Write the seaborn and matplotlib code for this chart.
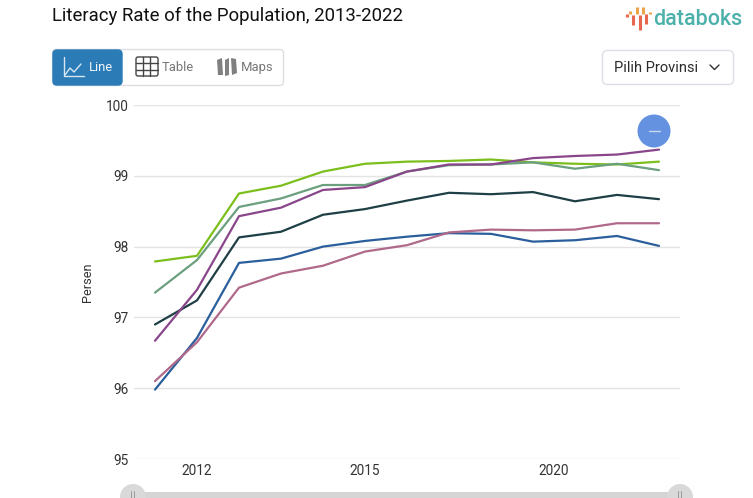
import matplotlib
matplotlib.use("Agg")
import matplotlib.pyplot as plt
from matplotlib.patches import FancyBboxPatch, Circle, Rectangle, Polygon
import pandas as pd
import seaborn as sns

positions = list(range(13))
tick_positions = [1, 5, 9.5]
tick_labels = ["2012", "2015", "2020"]
y_ticks = [95, 96, 97, 98, 99, 100]

lime = [97.79, 97.87, 98.75, 98.86, 99.06, 99.17, 99.20, 99.21, 99.23, 99.19, 99.17, 99.16, 99.20]
green = [97.35, 97.81, 98.56, 98.68, 98.87, 98.87, 99.06, 99.15, 99.16, 99.19, 99.10, 99.17, 99.08]
purple = [96.67, 97.39, 98.43, 98.55, 98.80, 98.84, 99.06, 99.16, 99.16, 99.25, 99.28, 99.30, 99.37]
dark = [96.90, 97.24, 98.13, 98.21, 98.45, 98.53, 98.65, 98.76, 98.74, 98.77, 98.64, 98.73, 98.67]
blue = [95.98, 96.71, 97.77, 97.83, 98.00, 98.08, 98.14, 98.19, 98.18, 98.07, 98.09, 98.15, 98.01]
pink = [96.10, 96.65, 97.42, 97.62, 97.73, 97.93, 98.02, 98.20, 98.24, 98.23, 98.24, 98.33, 98.33]

series = {"lime": lime, "green": green, "dark": dark, "blue": blue, "pink": pink, "purple": purple}
palette = {"lime": "#7CBF1C", "green": "#6B9F7E", "purple": "#89468A",
           "dark": "#1E3F45", "blue": "#2A5E9C", "pink": "#B0698A"}

df = pd.DataFrame([{"pos": p, "series": k, "value": v}
                   for k, vals in series.items() for p, v in zip(positions, vals)])

sns.set_theme(style="white")
plt.rcParams["font.family"] = ["Roboto", "DejaVu Sans"]

W, H = 753, 498
fig = plt.figure(figsize=(W / 100, H / 100), dpi=100, facecolor="white")
ax = fig.add_axes([134 / W, 1 - 459 / H, (680 - 134) / W, (459 - 105) / H])
sns.lineplot(data=df, x="pos", y="value", hue="series", palette=palette, ax=ax,
             linewidth=1.6, legend=False, errorbar=None, sort=False)
ax.set_xlim(-0.5, 12.5)
ax.set_ylim(95, 100)
ax.set_yticks(y_ticks)
ax.set_xticks(tick_positions)
ax.set_xticklabels(tick_labels)
ax.grid(axis="y", color="#E3E3E3", linewidth=1)
ax.set_axisbelow(True)
for s in ax.spines.values():
    s.set_visible(False)
ax.tick_params(axis="both", length=0, labelcolor="#333333", labelsize=9.8)
ax.tick_params(axis="x", pad=3.6)
ax.tick_params(axis="y", pad=3.8)
ax.set_xlabel("")
ax.set_ylabel("Persen", fontsize=9.2, color="#333333", labelpad=8.8)

# page chrome, in pixel coordinates
ui = fig.add_axes([0, 0, 1, 1], facecolor="none")
ui.set_xlim(0, W)
ui.set_ylim(H, 0)
ui.axis("off")

ui.text(52, 15.5, "Literacy Rate of the Population, 2013-2022", fontsize=13.4,
        color="#111111", va="center", ha="left")

def box(x, y, w, h, r, fc, ec, lw=1):
    ui.add_patch(FancyBboxPatch((x + r, y + r), w - 2 * r, h - 2 * r,
                                boxstyle=f"round,pad={r},rounding_size={r}",
                                fc=fc, ec=ec, lw=lw))

box(52.5, 49.5, 231, 36, 4, "white", "#DEDEE2")
box(53, 50, 69, 35, 4, "#2A7BB6", "#2A7BB6")
ui.text(88.5, 67.5, "Line", fontsize=9.4, color="#F0F6FA", va="center")
ui.text(162, 67.5, "Table", fontsize=9.4, color="#777777", va="center")
ui.text(241, 67.5, "Maps", fontsize=9.4, color="#777777", va="center")

# line icon
ui.plot([64, 64, 84], [57, 75.5, 75.5], color="#D6E6F2", lw=1)
ui.plot([65, 70, 74, 81], [75, 68, 72, 64], color="#D6E6F2", lw=1)
# table icon
box(136, 57, 22, 19, 2, "none", "#444444", 1)
for x in (143, 150.5):
    ui.plot([x, x], [57, 76], color="#444444", lw=1)
for y in (63, 69.5):
    ui.plot([136, 158], [y, y], color="#444444", lw=1)
# maps icon
ui.add_patch(Polygon([(217, 60), (222, 58), (223, 75), (218, 75)], fc="#808080", ec="none"))
ui.add_patch(Polygon([(225, 60), (229, 58), (229, 75), (225, 76)], fc="#808080", ec="none"))
ui.add_patch(Polygon([(231, 58), (236, 59), (237, 73), (232, 75)], fc="#808080", ec="none"))

# province picker
box(602.5, 50.5, 131, 34, 5, "white", "#DEDEE6")
ui.text(614, 67.5, "Pilih Provinsi", fontsize=10.5, color="#2b2b2b", va="center")
ui.plot([710, 714.5, 719], [65, 69.5, 65], color="#333333", lw=1)

# logo
for x, y0, y1, c in [(627, 14, 17, "#E8664E"), (630, 11, 14, "#EDA54B"), (633, 15, 25, "#E8664E"),
                     (637, 7, 14, "#EDA54B"), (640, 15, 30, "#E8664E"), (643, 7, 14, "#EDA54B"),
                     (646, 14, 24, "#E8664E"), (650, 12, 14, "#EDA54B")]:
    ui.plot([x, x], [y0, y1], color=c, lw=2.2, solid_capstyle="butt")
ui.text(653, 19, "databoks", fontsize=15.5, color="#4DB1AB", va="center", fontweight="medium")

# zoom-out button
ui.add_patch(Circle((654, 131), 16.5, fc="#6592E0", ec="none", zorder=5))
ui.plot([649, 660], [131, 131], color="#C9D8F3", lw=1, zorder=6)

# range slider, cut by the lower edge
ui.add_patch(Rectangle((133, 492), 547, 8, fc="#D5D5D5", ec="none"))
for x in (133, 680):
    ui.add_patch(Circle((x, 497), 13, fc="#D9D9D9", ec="none"))
    ui.plot([x - 1.5, x - 1.5], [491, 498], color="#999999", lw=0.7)
    ui.plot([x + 1.5, x + 1.5], [491, 498], color="#999999", lw=0.7)

fig.savefig("out.png", dpi=100)
